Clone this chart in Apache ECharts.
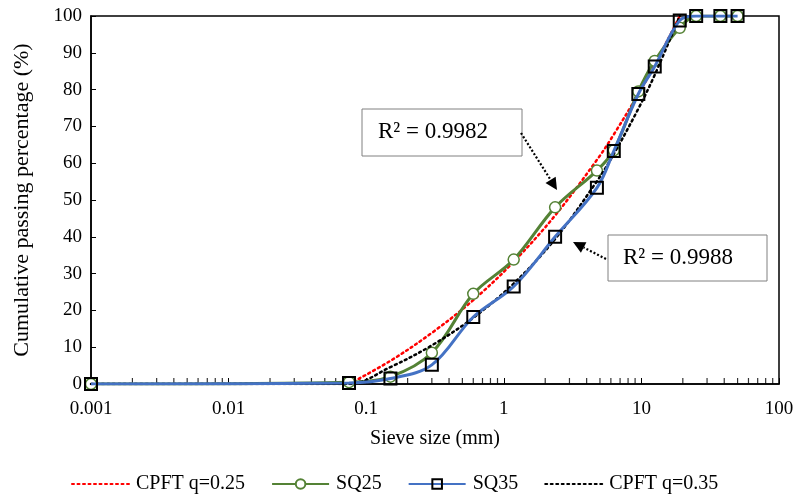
<!DOCTYPE html>
<html>
<head>
<meta charset="utf-8">
<script src="https://cdn.jsdelivr.net/npm/echarts@6/dist/echarts.min.js"></script>
<style>
html,body{margin:0;padding:0;background:#fff;}
#chart{width:800px;height:499px;}
</style>
</head>
<body>
<div id="chart"></div>
<script>
// Sieve sizes (mm) for measured gradations
var sieve = [0.001, 0.075, 0.15, 0.3, 0.6, 1.18, 2.36, 4.75, 6.3, 9.5, 12.5, 19, 25, 37.5, 50];
var sq25 = [0, 0.5, 2, 8.5, 24.5, 33.8, 48, 58, 63.5, 79.5, 87.8, 96.8, 100, 100, 100];
var sq35 = [0, 0.3, 1.5, 5.2, 18.2, 26.5, 40, 53.3, 63.3, 78.8, 86.3, 98.8, 100, 100, 100];

// CPFT curves
var cpft25Size = [0.075, 0.15, 0.3, 0.6, 1.18, 2.36, 4.75, 6.3, 9.5, 12.5, 19];
var cpft25 = [0, 6.3, 13.9, 22.8, 33.2, 45.8, 60.9, 67.8, 78.8, 86.7, 100];
var cpft35Size = [0.001, 0.075, 0.15, 0.3, 0.6, 1.18, 2.36, 4.75, 6.3, 9.5, 12.5, 19];
var cpft35 = [0, 0, 4.6, 10.5, 18.0, 27.3, 39.4, 55.1, 62.5, 74.8, 84.0, 100];

// Axis tick labels
var xTickLabels = ['0.001', '0.01', '0.1', '1', '10', '100'];
var minorTickValues = [];
[0.001, 0.01, 0.1, 1, 10].forEach(function (d) {
  for (var k = 2; k <= 9; k++) minorTickValues.push([+(d * k).toPrecision(3), 0]);
});

function pairs(xs, ys) { return xs.map(function (x, i) { return [x, ys[i]]; }); }

var FONT = '"Liberation Serif", "Times New Roman", serif';
var chart = echarts.init(document.getElementById('chart'), null, {renderer: 'canvas'});

function arrow(x1, y1, x2, y2) {
  var dx = x2 - x1, dy = y2 - y1, L = Math.sqrt(dx * dx + dy * dy);
  var ux = dx / L, uy = dy / L, h = 12, w = 6;
  var bx = x2 - h * ux, by = y2 - h * uy;
  return [
    {type: 'line', shape: {x1: x1, y1: y1, x2: bx, y2: by},
     style: {stroke: '#000', lineWidth: 2.2, lineDash: [2, 2]}, z: 100},
    {type: 'polygon', shape: {points: [[x2, y2], [bx - uy * w, by + ux * w], [bx + uy * w, by - ux * w]]},
     style: {fill: '#000'}, z: 100}
  ];
}

var option = {
  backgroundColor: '#fff',
  animation: false,
  textStyle: {fontFamily: FONT},
  grid: {left: 91, right: 21, top: 16, bottom: 115, show: true, borderColor: '#000', borderWidth: 1.5},
  xAxis: {
    type: 'log', logBase: 10, min: 0.001, max: 100,
    name: 'Sieve size (mm)', nameLocation: 'middle', nameGap: 45,
    nameTextStyle: {fontFamily: FONT, fontSize: 20, color: '#000'},
    axisLine: {show: true, lineStyle: {color: '#000', width: 1.5}},
    axisTick: {show: true, inside: true, length: 6, lineStyle: {color: '#000'}},
    axisLabel: {fontFamily: FONT, fontSize: 19, color: '#000', margin: 16,
      formatter: function (v) {
        var e = Math.round(Math.log10(v)) + 3;
        return xTickLabels[e] !== undefined ? xTickLabels[e] : '';
      }},
    splitLine: {show: false}
  },
  yAxis: {
    type: 'value', min: 0, max: 100, interval: 10,
    name: 'Cumulative passing percentage (%)', nameLocation: 'middle', nameGap: 58,
    nameTextStyle: {fontFamily: FONT, fontSize: 22, color: '#000'},
    axisLine: {show: true, lineStyle: {color: '#000', width: 1.5}},
    axisTick: {show: true, inside: true, length: 5, lineStyle: {color: '#000'}},
    axisLabel: {fontFamily: FONT, fontSize: 19, color: '#000', margin: 9},
    splitLine: {show: false}
  },
  legend: {
    left: 66, top: 469, itemGap: 26, itemWidth: 57, itemHeight: 12,
    data: [
      {name: 'CPFT q=0.25', itemStyle: {opacity: 0}},
      'SQ25',
      'SQ35',
      {name: 'CPFT q=0.35', itemStyle: {opacity: 0}}
    ],
    textStyle: {fontFamily: FONT, fontSize: 20, color: '#000', padding: [0, 0, 0, 2]}
  },
  series: [
    {
      name: 'minor', type: 'scatter', data: minorTickValues, symbol: 'rect',
      symbolSize: [1.2, 6], symbolOffset: [0, -3], silent: true, clip: false,
      itemStyle: {color: '#000'}, z: 1
    },
    {
      name: 'CPFT q=0.25', type: 'line', data: pairs(cpft25Size, cpft25), smooth: 0.35,
      showSymbol: false, symbol: 'none',
      lineStyle: {color: '#FF0000', width: 2.5, type: [2, 3.5], cap: 'round'},
      itemStyle: {color: '#FF0000'}, z: 2
    },
    {
      name: 'SQ25', type: 'line', data: pairs(sieve, sq25), smooth: 0.35,
      symbol: 'circle', symbolSize: 11, showSymbol: true,
      lineStyle: {color: '#548235', width: 3},
      itemStyle: {color: '#fff', borderColor: '#548235', borderWidth: 1.5}, z: 3
    },
    {
      name: 'SQ35', type: 'line', data: pairs(sieve, sq35), smooth: 0.35,
      symbol: 'rect', symbolSize: 12, showSymbol: true,
      lineStyle: {color: '#4472C4', width: 3},
      itemStyle: {color: 'rgba(255,255,255,0)', borderColor: '#000', borderWidth: 2}, z: 5
    },
    {
      name: 'CPFT q=0.35', type: 'line', data: pairs(cpft35Size, cpft35), smooth: 0.35,
      showSymbol: false, symbol: 'none',
      lineStyle: {color: '#000', width: 2.5, type: [2, 3.5], cap: 'round'},
      itemStyle: {color: '#000'}, z: 4
    }
  ],
  graphic: [
    {type: 'rect', shape: {x: 362, y: 109, width: 160, height: 47},
     style: {fill: '#fff', stroke: '#808080', lineWidth: 1}, z: 90},
    {type: 'text', x: 378, y: 132, style: {text: 'R² = 0.9982', font: '23px ' + FONT, fill: '#000', verticalAlign: 'middle'}, z: 91},
    {type: 'rect', shape: {x: 608, y: 235, width: 159, height: 46},
     style: {fill: '#fff', stroke: '#808080', lineWidth: 1}, z: 90},
    {type: 'text', x: 623, y: 258, style: {text: 'R² = 0.9988', font: '23px ' + FONT, fill: '#000', verticalAlign: 'middle'}, z: 91}
  ].concat(arrow(521, 133, 557, 190)).concat(arrow(606, 259, 573, 242))
};
chart.setOption(option);
</script>
</body>
</html>
